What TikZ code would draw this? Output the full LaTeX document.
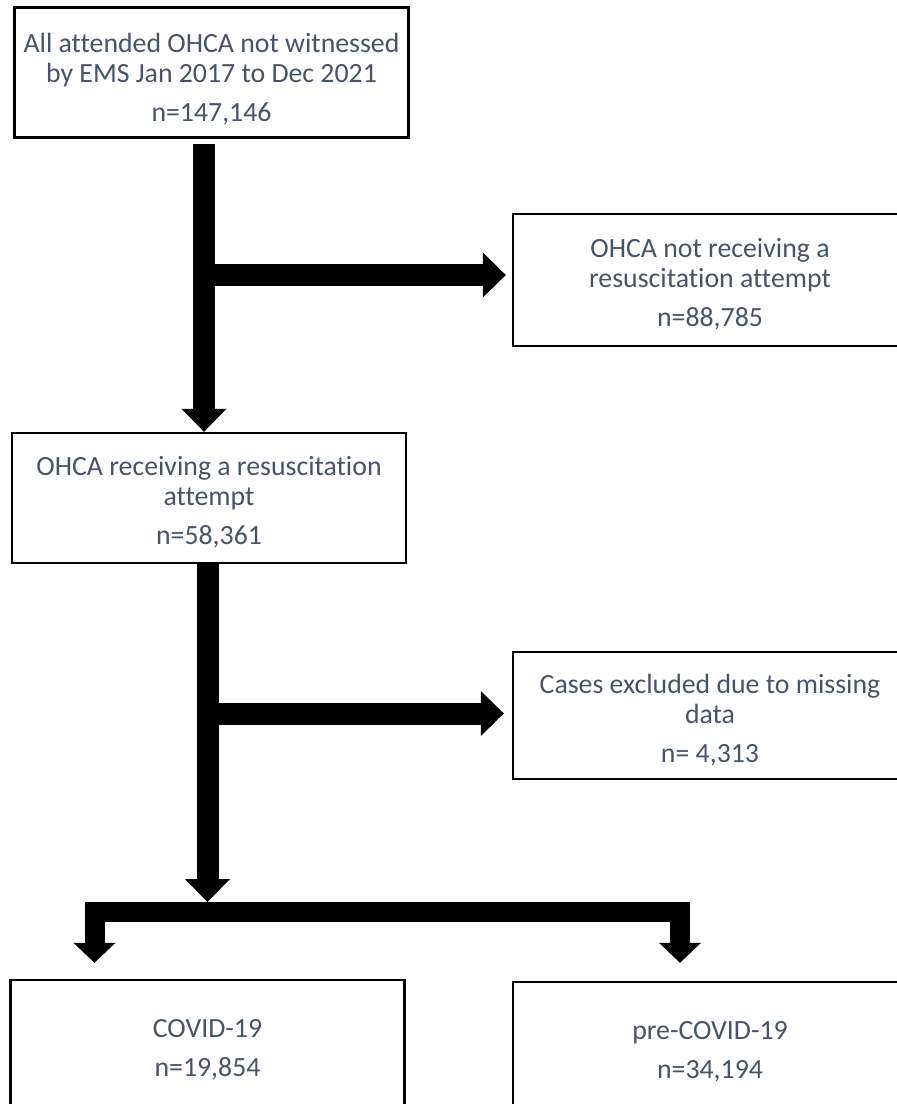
\documentclass[tikz,border=0pt]{standalone}
\usepackage{fontspec}
\setmainfont{Carlito}[Ligatures=NoCommon]
\usepackage{xcolor}
\usepackage{tikz}
\usetikzlibrary{arrows.meta,calc,positioning}
\definecolor{txtslate}{HTML}{44546A}
\newcommand{\boxlift}[1][14pt]{\rule{0pt}{#1}}
\tikzset{
  flowbox/.style={draw, line width=1.2pt, minimum width=197pt, minimum height=65pt,
    inner sep=0pt, align=center, text=txtslate, font=\fontsize{13.9}{15}\selectfont},
  fatarrow/.style={line width=11pt, -{Triangle[width=22.5pt,length=11.5pt,line width=0pt]}},
  legarrow/.style={line width=10pt, line join=miter,
    {Triangle[width=21pt,length=10pt,line width=0pt]}-{Triangle[width=21pt,length=10pt,line width=0pt]}}
}
\begin{document}
\begin{tikzpicture}[line join=miter,x=0.5pt,y=-0.5pt]
\useasboundingbox (0,0) rectangle (896,1104);
% boxes
\node[flowbox] (allohca) at (211.5,72.5) {\boxlift[16pt]All attended OHCA not witnessed\\by EMS Jan 2017 to Dec 2021\\[4.5pt]n=147,146};
\node[flowbox, minimum height=66pt] (noresus) at (710,280) {\boxlift OHCA not receiving a\\resuscitation attempt\\[4.5pt]n=88,785};
\node[flowbox] (resus) at (209,498) {\boxlift OHCA receiving a resuscitation\\attempt\\[4.5pt]n=58,361};
\node[flowbox, minimum height=63.5pt] (excl) at (710,715.5) {\boxlift Cases excluded due to missing\\data\\[4.5pt]n= 4,313};
\node[flowbox] (covid) at (207.5,1045) {\boxlift COVID-19\\[4.5pt]n=19,854};
\node[flowbox] (precovid) at (710,1047) {\boxlift pre-COVID-19\\[4.5pt]n=34,194};
% trunk and branch points
\coordinate (trunkA) at (204,275);
\coordinate (trunkB) at (207.5,713.5);
\coordinate (split) at (207.5,912);
\coordinate (legL) at (94.5,912);
\coordinate (legR) at (680,912);
% arrows
\draw[fatarrow, shorten <=2.5pt] (allohca.south -| trunkA) -- (resus.north -| trunkA);
\draw[fatarrow, shorten >=3pt] (trunkA) -- (trunkA -| noresus.west);
\draw[fatarrow, shorten >=5pt] (resus.south -| trunkB) -- (split);
\draw[fatarrow, shorten >=4pt] (trunkB) -- (trunkB -| excl.west);
\draw[legarrow, shorten <=8pt, shorten >=9pt] (legL |- covid.north) -- (legL) -- (legR) -- (legR |- precovid.north);
\end{tikzpicture}
\end{document}
